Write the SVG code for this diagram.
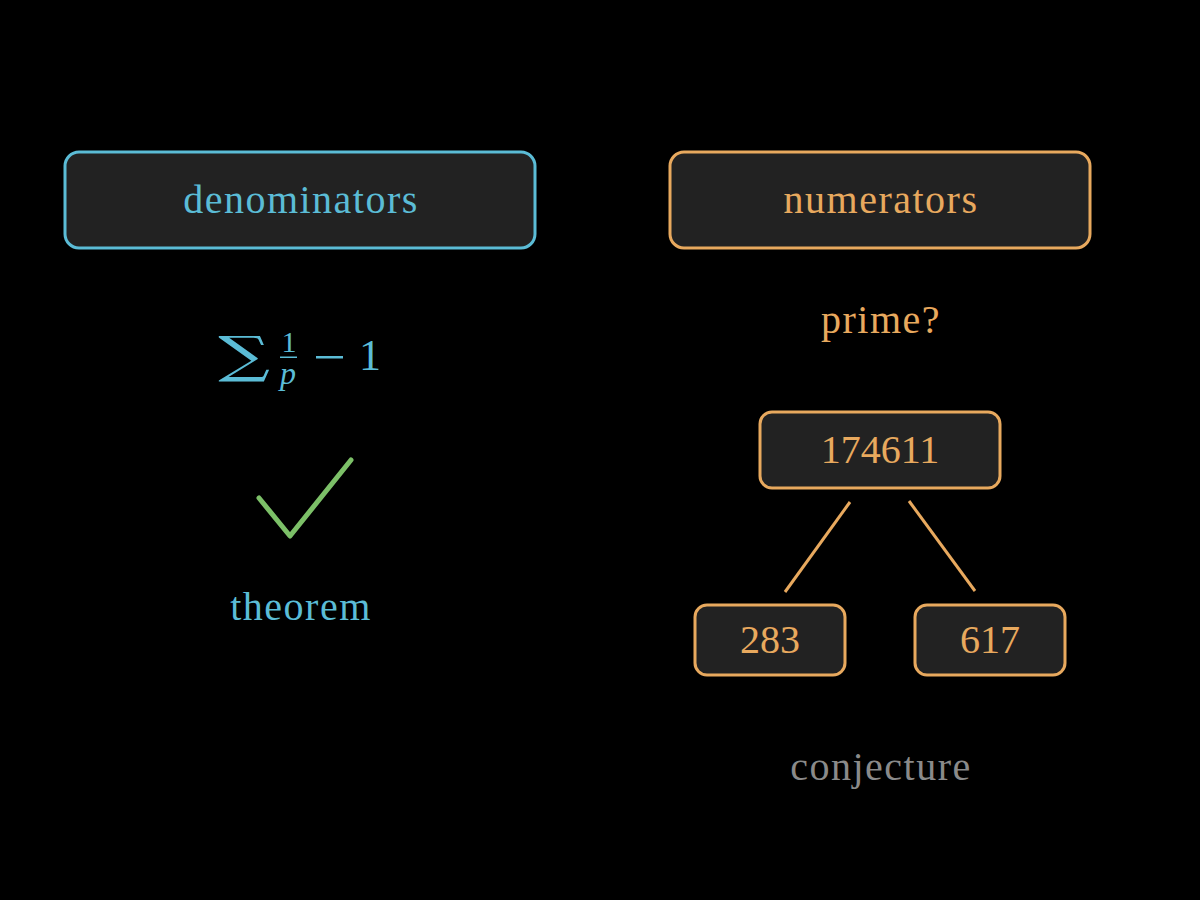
<svg xmlns="http://www.w3.org/2000/svg" width="1200" height="900" viewBox="0 0 1200 900">
<style>
.t{font-family:"Liberation Serif","DejaVu Serif",serif;text-anchor:middle;font-size:40px;letter-spacing:1.5px}
.d{letter-spacing:0}
.blue{fill:#5bbcd6}
.orange{fill:#e8a95e}
.gray{fill:#8a8a8a}
.box{fill:#222222;stroke-width:3}
.bb{stroke:#5bbcd6}
.ob{stroke:#e8a95e}
.conn{stroke:#e8a95e;stroke-width:3;fill:none}
</style>
<rect width="1200" height="900" fill="#000"/>
<g id="denominators">
<rect class="box bb" x="65" y="152" width="470" height="96" rx="14"/>
<text class="t blue" x="301" y="213">denominators</text>
</g>
<g id="formula">
<text class="blue" x="0" y="0" font-size="50" font-family="DejaVu Serif" text-anchor="middle" transform="translate(244,372) scale(1.45,1)">∑</text>
<text class="t d blue" x="289" y="352" style="font-size:30px">1</text>
<rect x="280" y="356.5" width="17" height="1.5" fill="#5bbcd6"/>
<text class="t d blue" x="288" y="384" style="font-size:32px;font-style:italic">p</text>
<rect x="316" y="356" width="27" height="2.5" fill="#5bbcd6"/>
<text class="t d blue" x="370" y="370" style="font-size:44px">1</text>
</g>
<g id="check">
<polyline points="259,498 290,536 351,460" fill="none" stroke="#7cc068" stroke-width="5" stroke-linecap="round" stroke-linejoin="round"/>
</g>
<g id="theorem">
<text class="t blue" x="301" y="620">theorem</text>
</g>
<g id="numerators">
<rect class="box ob" x="670" y="152" width="420" height="96" rx="14"/>
<text class="t orange" x="881" y="213">numerators</text>
</g>
<g id="prime">
<text class="t orange" x="881" y="333">prime?</text>
</g>
<g id="n174611">
<rect class="box ob" x="760" y="412" width="240" height="76" rx="12"/>
<text class="t d orange" x="880" y="463">174611</text>
</g>
<g id="n283">
<rect class="box ob" x="695" y="605" width="150" height="70" rx="12"/>
<text class="t d orange" x="770" y="653">283</text>
</g>
<g id="n617">
<rect class="box ob" x="915" y="605" width="150" height="70" rx="12"/>
<text class="t d orange" x="990" y="653">617</text>
</g>
<g id="connectors">
<line class="conn" x1="850" y1="502" x2="785" y2="592"/>
<line class="conn" x1="909" y1="501" x2="975" y2="591"/>
</g>
<g id="conjecture">
<text class="t gray" x="881" y="780">conjecture</text>
</g>
</svg>
